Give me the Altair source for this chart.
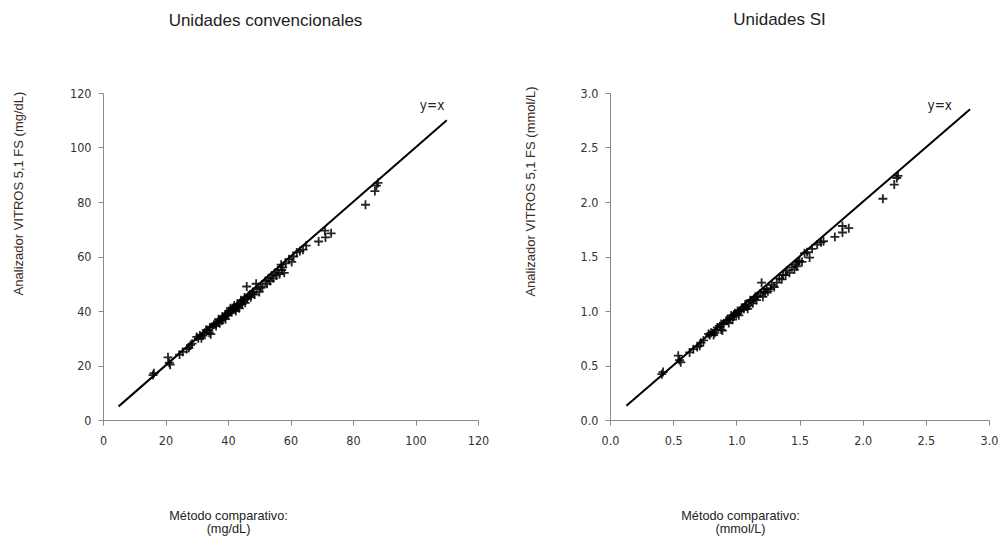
import altair as alt
import pandas as pd

# ---- data ----
conv_x = [16, 16.3, 20.8, 21.2, 21.5, 24.5, 25.5, 26.8, 27.5, 28, 28.5, 30, 30.5, 31, 31.5, 32, 32.5, 33,
          33.5, 34, 34.2, 34.5, 35, 35.5, 36, 36.2, 36.8, 37, 37.3, 37.8, 38, 38.2, 38.5, 39, 39.2, 39.5,
          39.8, 40, 40.2, 40.5, 40.8, 41, 41.2, 41.5, 41.8, 42, 42.2, 42.5, 42.8, 43, 43.3, 43.6, 44, 44.2,
          44.5, 44.8, 45, 45.3, 45.5, 46, 46.2, 46.5, 47, 47.3, 47.8, 48, 48.5, 49, 49.2, 50, 50.5, 51, 52,
          52.5, 53, 53.5, 54, 54.5, 55, 55.5, 56, 56.5, 57, 57.2, 57.5, 58, 58.5, 59.5, 60.4, 61, 62, 63, 64,
          65, 69, 71, 71.2, 73, 84, 87, 87.5, 88]
conv_y = [16.5, 17.2, 23, 21, 20.3, 24, 25, 26, 26.5, 27.5, 28, 30.5, 30, 31, 30, 31, 32, 33,
          33, 32, 34, 31.5, 34, 35, 35.5, 34.5, 36, 37, 35.5, 37, 36.5, 38, 37.5, 38, 37, 39,
          38.5, 39, 40, 39.5, 41, 40, 39.5, 41, 40.5, 42, 41, 40, 41.5, 42.5, 42, 41, 43, 44,
          42.5, 43.5, 44, 45, 43, 49, 44.5, 45.5, 46, 45, 46.5, 47, 46, 50, 48, 47, 48.5, 49, 51,
          50, 52, 51, 53, 52, 54, 53, 55, 53.5, 57, 55, 56, 54, 57.5, 59, 58, 60, 61.5, 62, 62.5,
          64, 65.5, 69.5, 67, 68.5, 79, 84, 86, 87]

si_x = [0.41, 0.42, 0.54, 0.55, 0.56, 0.63, 0.66, 0.69, 0.71, 0.72, 0.74, 0.78, 0.79, 0.8, 0.82, 0.83,
        0.84, 0.85, 0.87, 0.88, 0.88, 0.89, 0.9, 0.92, 0.93, 0.94, 0.95, 0.96, 0.97, 0.98, 0.98, 0.99,
        1.0, 1.01, 1.02, 1.03, 1.04, 1.05, 1.06, 1.07, 1.08, 1.09, 1.1, 1.11, 1.12, 1.13, 1.14, 1.15,
        1.16, 1.17, 1.19, 1.2, 1.21, 1.22, 1.23, 1.24, 1.25, 1.27, 1.28, 1.3, 1.32, 1.34, 1.36, 1.37,
        1.39, 1.4, 1.42, 1.44, 1.46, 1.47, 1.48, 1.49, 1.5, 1.52, 1.54, 1.56, 1.58, 1.6, 1.64, 1.67,
        1.69, 1.78, 1.84, 1.84, 1.89, 2.16, 2.25, 2.27, 2.28]
si_y = [0.42, 0.44, 0.59, 0.55, 0.53, 0.62, 0.65, 0.67, 0.68, 0.71, 0.73, 0.79, 0.78, 0.8, 0.78, 0.8,
        0.83, 0.85, 0.86, 0.83, 0.88, 0.82, 0.88, 0.91, 0.92, 0.89, 0.93, 0.96, 0.92, 0.96, 0.95, 0.98,
        0.97, 1.0, 0.96, 1.0, 1.01, 1.03, 1.02, 1.06, 1.04, 1.02, 1.05, 1.1, 1.09, 1.07, 1.11, 1.13,
        1.1, 1.14, 1.16, 1.26, 1.13, 1.18, 1.17, 1.2, 1.18, 1.2, 1.24, 1.22, 1.26, 1.3, 1.29, 1.33,
        1.33, 1.37, 1.35, 1.4, 1.38, 1.43, 1.41, 1.45, 1.46, 1.45, 1.53, 1.54, 1.49, 1.57, 1.61, 1.63,
        1.64, 1.68, 1.72, 1.78, 1.76, 2.03, 2.16, 2.22, 2.24]

conv_line = [5, 110]
si_line = [0.13, 2.85]

conv_ticks = [0, 20, 40, 60, 80, 100, 120]
si_ticks = [0.0, 0.5, 1.0, 1.5, 2.0, 2.5, 3.0]

conv_label = {"x": [105.3], "y": [115.2], "t": ["y=x"]}
si_label = {"x": [2.61], "y": [2.88], "t": ["y=x"]}

AXIS_GREY = "#8a8a8a"
LABEL_COL = "#333333"
TITLE_COL = "#222222"
NARROW = "DejaVu Sans Condensed, Roboto, Liberation Sans"
PLUS = "M-1,0L1,0M0,-1L0,1"


def panel(px, py, line, label, ticks, fmt, dom, width, height, title, title_dx,
          ytitle, ytitle_x, ytitle_y, xtitle, xtitle_x):
    pts = pd.DataFrame({"x": px, "y": py})
    ln = pd.DataFrame({"x": line, "y": line})
    lb = pd.DataFrame(label)

    xscale = alt.Scale(domain=dom, nice=False, zero=True)
    yscale = alt.Scale(domain=dom, nice=False, zero=True)

    xaxis = alt.Axis(values=ticks, format=fmt, grid=False, domainColor=AXIS_GREY, tickColor=AXIS_GREY,
                     tickSize=5, labelFont=NARROW, labelFontSize=12.5,
                     labelColor=LABEL_COL, labelPadding=9, labelFlush=False,
                     title=xtitle, titleFont="Liberation Sans", titleFontSize=12.7,
                     titleFontWeight="normal", titleColor=TITLE_COL, titleX=xtitle_x, titleY=89,
                     titleAlign="center", titleBaseline="top", titleLineHeight=13)
    yaxis = alt.Axis(values=ticks, format=fmt, grid=False, domainColor=AXIS_GREY, tickColor=AXIS_GREY,
                     tickSize=5, labelFont=NARROW, labelFontSize=12.5,
                     labelColor=LABEL_COL, labelPadding=7, labelFlush=False,
                     title=ytitle, titleFont="Liberation Sans", titleFontSize=13,
                     titleFontWeight="normal", titleColor="#3a2a22", titleX=ytitle_x, titleY=ytitle_y,
                     titleAngle=270, titleAlign="center", titleBaseline="middle")

    base_pts = alt.Chart(pts).mark_point(shape=PLUS, filled=False, stroke="black", strokeWidth=1.8,
                                         size=80, opacity=0.85).encode(
        x=alt.X("x:Q", scale=xscale, axis=xaxis),
        y=alt.Y("y:Q", scale=yscale, axis=yaxis),
    )
    line_mark = alt.Chart(ln).mark_line(color="black", strokeWidth=2).encode(
        x=alt.X("x:Q", scale=xscale),
        y=alt.Y("y:Q", scale=yscale),
    )
    txt = alt.Chart(lb).mark_text(font=NARROW, fontSize=13.5, color="#222222",
                                  align="center", baseline="middle").encode(
        x=alt.X("x:Q", scale=xscale),
        y=alt.Y("y:Q", scale=yscale),
        text="t:N",
    )
    return alt.layer(base_pts, line_mark, txt).properties(
        width=width, height=height,
        title=alt.TitleParams(title, frame="group", anchor="middle", dx=title_dx, offset=44,
                              baseline="alphabetic", font="Liberation Sans", fontSize=17,
                              fontWeight="normal", color=TITLE_COL),
    )


left = panel(conv_x, conv_y, conv_line, conv_label, conv_ticks, "d", [0, 120], 375, 327,
             "Unidades convencionales", -25,
             "Analizador VITROS 5,1 FS (mg/dL)", -85, 100,
             ["Método comparativo:", "(mg/dL)"], 125)
right = panel(si_x, si_y, si_line, si_label, si_ticks, ".1f", [0, 3], 379, 327,
              "Unidades SI", -20,
              "Analizador VITROS 5,1 FS (mmol/L)", -80, 98,
              ["Método comparativo:", "(mmol/L)"], 130)

chart = alt.hconcat(left, right, spacing=132, bounds="flush").properties(
    padding={"left": 11, "top": 10, "right": 0, "bottom": 0},
    background="white",
).configure_view(stroke="transparent")

chart.save("out.html", embed_options={"renderer": "svg", "actions": False})
